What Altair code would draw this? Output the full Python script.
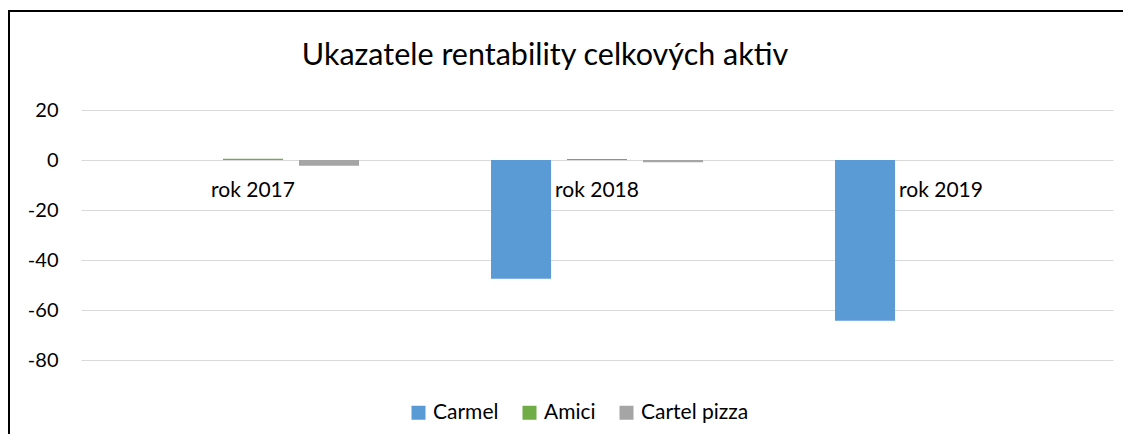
import altair as alt
import pandas as pd

years = ["rok 2017", "rok 2018", "rok 2019"]
series = ["Carmel", "Amici", "Cartel pizza"]
carmel = [0.0, -47.5, -64.3]
amici = [0.5, 0.4, 0.0]
cartel = [-2.3, -0.9, 0.0]
colors = ["#5B9BD5", "#70AD47", "#A5A5A5"]
y_ticks = [20, 0, -20, -40, -60, -80]
title_text = "Ukazatele rentability celkových aktiv"

rows = []
for name, vals in zip(series, [carmel, amici, cartel]):
    for yr, v in zip(years, vals):
        rows.append({"rok": yr, "firma": name, "hodnota": v})
df = pd.DataFrame(rows)

FONT = "Lato"

bars = alt.Chart(df).mark_bar().encode(
    x=alt.X("rok:N", sort=years,
            scale=alt.Scale(paddingInner=0.3837, paddingOuter=0.1919),
            axis=alt.Axis(title=None, orient="bottom", offset=-200, domain=False,
                          ticks=False, labelAngle=0, labelPadding=19,
                          labelFontSize=21, labelColor="#000000", labelFont=FONT,
                          grid=False)),
    xOffset=alt.XOffset("firma:N", sort=series,
                        scale=alt.Scale(paddingInner=0.21, paddingOuter=0)),
    y=alt.Y("hodnota:Q",
            scale=alt.Scale(domain=[-80, 20], nice=False, zero=True),
            axis=alt.Axis(title=None, values=y_ticks, domain=False, ticks=False,
                          labelExpr="'' + datum.value",
                          labelPadding=23, labelFontSize=20, labelColor="#000000",
                          labelFont=FONT, gridColor="#d9d9d9", gridWidth=1)),
    color=alt.Color("firma:N", sort=series,
                    scale=alt.Scale(domain=series, range=colors),
                    legend=alt.Legend(title=None, orient="none", direction="horizontal",
                                      legendX=327, legendY=292,
                                      symbolType="square", symbolSize=196,
                                      symbolStrokeWidth=0, labelFontSize=21,
                                      labelFont=FONT, labelColor="#000000",
                                      labelOffset=4, columnPadding=20, padding=0)),
)

border = pd.DataFrame({"k": [0]})
top_line = alt.Chart(border).mark_rule(color="#000000", strokeWidth=2).encode(
    x=alt.value(-73), x2=alt.value(1042), y=alt.value(-99))
left_line = alt.Chart(border).mark_rule(color="#000000", strokeWidth=2).encode(
    x=alt.value(-72), y=alt.value(-100), y2=alt.value(325))

title = alt.Chart(pd.DataFrame({"t": [title_text]})).mark_text(
    font=FONT, fontSize=30.5, color="#000000", baseline="alphabetic", align="center"
).encode(text="t:N", x=alt.value(464), y=alt.value(-45))

chart = alt.layer(bars, top_line, left_line, title).properties(
    width=1032, height=250,
    autosize=alt.AutoSizeParams(type="none"),
    padding={"left": 73, "top": 102, "right": 10, "bottom": 74},
).configure_view(stroke=None)

chart.save("out.html", embed_options={"renderer": "svg", "actions": False})
